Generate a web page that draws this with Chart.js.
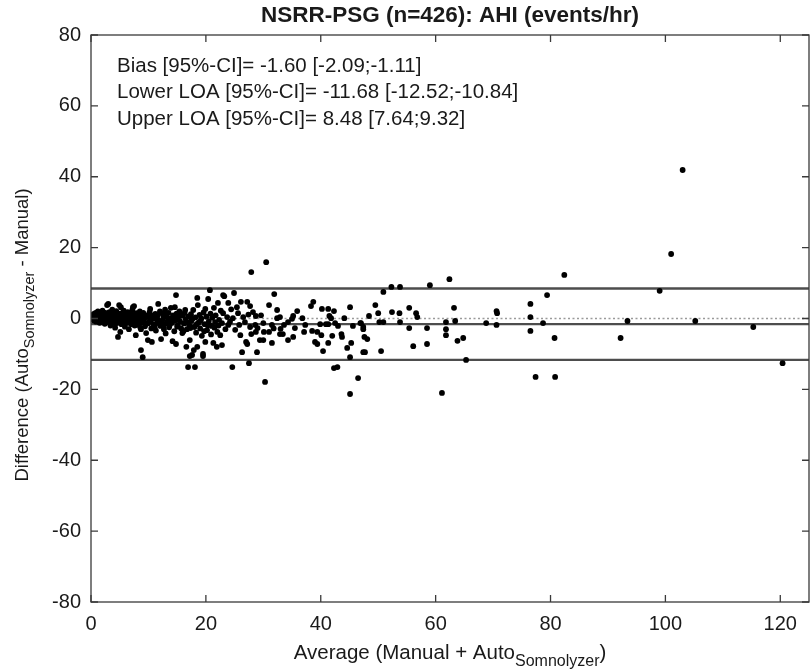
<!DOCTYPE html>
<html><head><meta charset="utf-8">
<script src="https://cdn.jsdelivr.net/npm/chart.js@4/dist/chart.umd.min.js"></script>
<style>html,body{margin:0;padding:0;background:#fff}#wrap{width:812px;height:672px}</style>
</head><body><div id="wrap"><canvas id="c" width="812" height="672"></canvas></div>
<script>
const xTicks=[0,20,40,60,80,100,120];
const yTicks=[-80,-60,-40,-20,0,20,40,60,80];
const xRange=[0,125];
const yRange=[-80,80];
const upperLOA=[8.48];
const biasLine=[-1.60];
const lowerLOA=[-11.68];
const zeroLine=[0];
const titleText='NSRR-PSG (n=426): AHI (events/hr)';
const statLabels=['Bias [95%-CI]= -1.60 [-2.09;-1.11]','Lower LOA [95%-CI]= -11.68 [-12.52;-10.84]','Upper LOA [95%-CI]= 8.48 [7.64;9.32]'];
const yTitleParts=['Difference (Auto','Somnolyzer',' - Manual)'];
const xTitleParts=['Average (Manual + Auto','Somnolyzer',')'];

const pointsLow=[[0.1,0.2],[0.2,0.6],[0.2,-0.3],[0.3,1.0],[0.4,0.1],[0.4,0.7],[0.5,-0.6],[0.5,1.3],[0.6,0.3],[0.7,0.9],[0.7,-0.2],[0.8,1.6],[0.8,0.4],[0.9,-0.9],[1.0,0.6],[1.0,1.1],[1.1,-0.1],[1.2,0.8],[1.2,2.0],[1.3,-0.5],[1.4,0.3],[1.4,1.2],[1.5,-1.2],[1.6,0.7],[1.6,0.0],[1.7,1.5],[1.8,-0.4],[1.8,0.9],[1.9,0.2],[2.0,2.2],[2.0,-0.8],[2.1,0.5],[2.2,1.2],[2.2,-0.1],[2.3,0.8],[2.4,-1.5],[2.5,0.3],[2.5,1.6],
[2.6,-0.6],[2.7,0.9],[2.8,3.8],[2.8,0.1],[2.9,1.3],[3.0,-1.0],[3.0,4.1],[3.1,0.5],[3.2,1.8],[3.2,-0.3],[3.3,0.9],[3.4,-2.0],[3.5,0.2],[3.5,1.4],[3.6,-0.7],[3.7,2.5],[3.8,0.6],[3.8,-1.3],[3.9,1.0],[4.0,-0.2],[4.1,1.7],[4.1,0.3],[4.2,-2.6],[4.3,0.9],[4.4,2.1],[4.4,-0.5],[4.5,0.4],[4.6,1.3],[4.7,-5.2],[4.7,-1.0],[4.8,0.1],[4.9,3.8],[4.9,1.0],[5.0,-0.4],[5.1,-3.8],[5.2,3.2],[5.2,0.7],
[5.3,-1.6],[5.4,1.5],[5.5,0.2],[5.6,-0.8],[5.7,2.2],[5.8,0.6],[5.9,-2.3],[6.0,1.1],[6.1,-0.2],[6.2,0.9],[6.3,-1.2],[6.4,1.8],[6.5,0.3],[6.6,-3.0],[6.7,0.8],[6.8,-0.6],[6.9,1.4],[7.0,-1.6],[7.1,0.4],[7.2,2.4],[7.3,3.2],[7.3,-0.3],[7.4,1.0],[7.5,3.5],[7.6,-2.0],[7.7,0.6],[7.8,-4.7],[7.9,1.5],[8.0,-0.8],[8.1,0.2],[8.2,-1.8],[8.3,1.2],[8.4,-0.4],[8.5,2.0],[8.6,-2.6],[8.7,-3.0],[8.7,-8.9],[8.8,0.7],[9.0,-10.9],[9.0,-1.1],[9.1,1.6],[9.3,0.1],[9.4,-2.2],[9.6,-4.1],[9.7,0.9],[9.9,-6.1],[9.9,-1.4],[10.0,0.4],
[10.2,1.8],[10.3,2.7],[10.4,-0.6],[10.5,-2.8],[10.6,-6.6],[10.7,0.8],[10.9,-1.7],[11.0,0.0],[11.2,1.3],[11.3,-3.4],[11.5,0.1],[11.5,-1.3],[11.7,4.1],[11.8,-0.7],[12.0,2.0],[12.1,-2.1],[12.2,-5.8],[12.4,1.5],[12.5,-0.3],[12.6,0.7],[12.8,-1.6],[12.9,2.5],[13.0,-4.2],[13.2,0.4],[13.3,-0.9],[13.5,1.6],[13.6,-2.5],[13.8,0.0],[13.9,3.0],[14.1,-1.2],[14.2,-6.4],[14.3,0.9],[14.5,-3.6],[14.6,3.2],[14.7,-0.5],[14.8,6.6],[14.8,-7.2],[14.9,1.4]];

const pointsMid=[[15.1,-1.9],[15.2,0.4],[15.4,2.0],[15.5,-0.8],[15.7,-2.8],[15.9,-4.1],[16.0,0.9],[16.2,-1.4],[16.3,1.6],[16.4,2.4],[16.5,-0.2],[16.6,-8.0],[16.7,-3.0],[16.9,-13.7],[17.0,0.6],[17.1,-1.8],[17.2,-6.1],[17.2,-10.6],[17.4,1.2],[17.5,-0.6],[17.6,-10.3],[17.8,2.4],[17.9,-8.9],[18.0,-2.4],[18.1,-13.7],[18.2,0.3],[18.3,-4.0],[18.5,5.8],[18.5,-8.0],[18.6,3.8],[18.7,-1.2],[18.9,1.0],[19.0,-2.8],[19.2,0.0],[19.3,-4.9],[19.5,-10.0],[19.5,-10.6],[19.6,1.7],[19.8,-1.6],[19.9,2.7],[19.9,-6.6],[20.1,0.5],[20.2,-3.3],[20.4,5.5],[20.5,-0.9],[20.7,8.0],[20.8,1.4],[21.0,-2.1],[21.1,0.2],[21.3,-6.9],[21.4,3.0],[21.6,-1.0],[21.7,0.9],[21.9,-8.0],[22.0,-3.8],[22.1,4.4],[22.3,-0.4],
[22.5,-4.7],[22.8,-1.3],[22.8,-7.5],[23.0,6.6],[23.0,1.5],[23.2,6.3],[23.7,0.4],[23.9,4.4],[23.9,-1.8],[24.6,-13.7],[24.7,0.1],[24.9,7.2],[25.4,3.2],[25.6,1.5],[25.8,-1.8],[26.0,-4.7],[26.1,4.7],[26.3,-9.5],[26.5,0.4],[27.0,-6.6],[27.2,4.7],[27.2,-7.2],[27.5,-12.6],[27.7,3.5],[27.7,-2.4],[27.9,13.1],[27.9,-4.4],[28.2,1.8],[28.6,-1.8],[28.7,0.7],[28.7,-3.8],[28.9,-9.5],[29.4,-6.1],[30.0,-1.3],[30.0,-6.1],[30.1,-3.8],[30.3,-17.9],[30.5,15.9],[31.0,3.8],[31.0,-3.8],[31.5,-1.8],[31.5,-6.9],[31.9,6.9],[32.4,2.4],[32.4,0.1],[32.9,0.4],[32.9,-4.4],[33.4,-4.4],[33.6,-1.8]];

const pointsHigh=[[34.3,-1.0],[34.3,-6.1],[35.0,-0.1],[35.2,0.7],[35.2,-5.2],[35.5,-2.7],[35.9,2.1],[36.8,0.1],[37.1,-3.8],[37.3,-1.8],[38.3,3.5],[38.5,-3.5],[38.7,4.7],[39.0,-6.6],[39.4,-3.8],[39.4,-7.2],[39.9,-1.6],[40.1,-4.7],[40.2,2.7],[40.4,-9.2],[40.9,-1.6],[41.3,2.7],[41.3,-1.6],[41.3,-6.9],[41.5,0.7],[41.8,0.1],[42.0,-4.9],[42.3,2.1],[42.3,-14.0],[42.5,-1.3],[42.9,-13.7],[43.0,-2.1],[43.6,-4.4],[43.7,-5.2],[44.1,0.1],[44.6,-8.3],[45.1,3.2],[45.1,-10.9],[45.1,-21.3],[45.3,-6.9],[45.6,-2.1],[46.5,-16.8],[46.9,-1.3],[47.0,-1.3],[47.4,-2.4],[47.4,-3.0],[47.4,-9.5],[47.6,-5.2],[47.7,-9.5],[48.1,-5.8],
[48.4,0.7],[49.5,3.8],[50.0,1.5],[50.2,-1.0],[50.5,-9.2],[50.9,7.5],[50.9,-1.0],[52.3,8.9],[52.4,1.8],[53.7,1.5],[53.8,8.9],[53.8,-1.0],[55.4,3.0],[55.4,-2.7],[56.1,-7.8],[56.6,1.5],[56.8,0.4],[58.5,-2.7],[58.5,-7.2],[59.0,9.4],
[61.1,-21.0],[61.8,-1.0],[61.8,-3.0],[61.8,-4.7],[62.4,11.1],[63.2,3.0],[63.4,-0.7],[63.8,-6.3],[64.8,-5.5],[65.3,-11.7],[68.8,-1.3],[70.6,2.1],[70.7,1.5],[70.6,-1.8],[76.5,4.1],[76.5,0.4],[76.5,-3.5],[77.4,-16.5],[78.7,-1.3],[79.4,6.6],[80.7,-5.5],[80.8,-16.5],[82.4,12.3],[92.2,-5.5],[93.4,-0.7],[99.0,7.8],[101.0,18.2],[103.0,41.9],[105.2,-0.7],[115.3,-2.4],[120.4,-12.6]];

const pointsExtra=[[0.3,0.1],[0.6,0.5],[0.9,0.2],[1.1,0.7],[1.3,0.4],[1.5,0.9],[1.7,0.3],[1.9,-0.2],[2.1,1.0],[2.3,0.2],[2.6,0.6],[2.9,-0.4],[3.1,1.1],[3.3,-0.6],[3.6,0.4],[3.9,0.0],[4.2,0.8],[4.5,-1.3],[4.8,0.5],[5.0,1.4],[5.4,-0.1],[5.7,-0.5],[6.0,0.3],[6.3,1.3],[6.6,-0.9],[6.9,0.2],[7.2,-0.9],[7.6,0.9],[8.0,0.4],[8.4,-1.3],[8.9,0.3],[9.2,-0.7],[9.6,0.6],[10.1,-0.9],[10.6,0.3],[11.1,-2.4],[11.6,0.9],[12.3,-1.0],[12.7,-3.0],[13.1,1.1],[13.7,-1.8],[14.4,0.4],[15.0,-2.3],[15.6,0.8],[16.1,-3.6],[16.8,-1.1],[17.3,-2.7],[17.7,0.0],[18.4,-1.6],[19.1,-0.6],[19.7,-3.6],[20.3,-1.9],[20.9,-4.5],[21.5,-2.6],[22.2,-2.0],[22.6,2.2],[23.4,-3.0],[24.2,-0.9],[24.4,2.6],[25.1,-3.2],[26.8,-1.0],[27.4,1.1],[29.0,-2.7],[29.6,0.9],[31.8,-2.8],[33.0,-2.9]];

const allPoints=[...pointsLow,...pointsMid,...pointsHigh,...pointsExtra].map(p=>({x:p[0],y:p[1]}));
const hline=v=>[{x:xRange[0],y:v},{x:xRange[1],y:v}];

const FONT='"Liberation Sans", Arial, sans-serif';
function subText(ctx,parts,size,subSize,subDy){
  ctx.font=size+'px '+FONT; const w0=ctx.measureText(parts[0]).width, w2=ctx.measureText(parts[2]).width;
  ctx.font=subSize+'px '+FONT; const w1=ctx.measureText(parts[1]).width;
  let sx=-(w0+w1+w2)/2;
  ctx.textAlign='left'; ctx.textBaseline='alphabetic';
  ctx.font=size+'px '+FONT; ctx.fillText(parts[0],sx,0); sx+=w0;
  ctx.font=subSize+'px '+FONT; ctx.fillText(parts[1],sx,subDy); sx+=w1;
  ctx.font=size+'px '+FONT; ctx.fillText(parts[2],sx,0);
}
const deco={id:'deco',afterDraw(chart){
  const {ctx,chartArea:a,scales:{x,y}}=chart;
  ctx.save();
  ctx.strokeStyle='#3a3a3a'; ctx.lineWidth=1.3;
  ctx.strokeRect(a.left,a.top,a.right-a.left,a.bottom-a.top);
  const tl=7;
  ctx.beginPath();
  xTicks.forEach(v=>{const p=x.getPixelForValue(v); ctx.moveTo(p,a.bottom); ctx.lineTo(p,a.bottom-tl); ctx.moveTo(p,a.top); ctx.lineTo(p,a.top+tl);});
  yTicks.forEach(v=>{const p=y.getPixelForValue(v); ctx.moveTo(a.left,p); ctx.lineTo(a.left+tl,p); ctx.moveTo(a.right,p); ctx.lineTo(a.right-tl,p);});
  ctx.stroke();
  ctx.fillStyle='#1a1a1a';
  ctx.font='20px '+FONT; ctx.textAlign='center'; ctx.textBaseline='top';
  xTicks.forEach(v=>ctx.fillText(String(v),x.getPixelForValue(v),a.bottom+12));
  ctx.textAlign='right'; ctx.textBaseline='middle';
  yTicks.forEach(v=>ctx.fillText(String(v),a.left-10,y.getPixelForValue(v)));
  ctx.font='20.5px '+FONT; ctx.textAlign='left'; ctx.textBaseline='middle';
  statLabels.forEach((s,i)=>ctx.fillText(s,a.left+26,a.top+31+i*26.5));
  ctx.font='bold 22.5px '+FONT; ctx.textAlign='center'; ctx.textBaseline='middle';
  ctx.fillText(titleText,(a.left+a.right)/2,16);
  ctx.save(); ctx.translate((a.left+a.right)/2,659); subText(ctx,xTitleParts,20.5,16,7); ctx.restore();
  ctx.save(); ctx.translate(28,335); ctx.rotate(-Math.PI/2); subText(ctx,yTitleParts,18.5,14.5,6); ctx.restore();
  ctx.restore();
}};

new Chart(document.getElementById('c'),{
  type:'scatter',
  data:{datasets:[
    {data:allPoints,pointRadius:2.9,pointHoverRadius:2.9,pointBackgroundColor:'#000',pointBorderWidth:0,showLine:false,order:0},
    {data:hline(upperLOA[0]),showLine:true,borderColor:'#4d4d4d',borderWidth:2.4,pointRadius:0,order:1},
    {data:hline(biasLine[0]),showLine:true,borderColor:'#4d4d4d',borderWidth:2.4,pointRadius:0,order:1},
    {data:hline(lowerLOA[0]),showLine:true,borderColor:'#4d4d4d',borderWidth:2.4,pointRadius:0,order:1},
    {data:hline(zeroLine[0]),showLine:true,borderColor:'#9a9a9a',borderWidth:1.6,borderDash:[2,2.5],pointRadius:0,order:2}
  ]},
  options:{
    responsive:false,animation:false,devicePixelRatio:1,
    layout:{padding:{top:35,right:3,left:0,bottom:0}},
    plugins:{legend:{display:false},tooltip:{enabled:false},title:{display:false}},
    scales:{
      x:{type:'linear',min:xRange[0],max:xRange[1],afterBuildTicks:s=>{s.ticks=xTicks.map(v=>({value:v}));},afterFit:s=>{s.height=70;},ticks:{display:false},grid:{display:false},border:{display:false}},
      y:{type:'linear',min:yRange[0],max:yRange[1],afterBuildTicks:s=>{s.ticks=yTicks.map(v=>({value:v}));},afterFit:s=>{s.width=91;},ticks:{display:false},grid:{display:false},border:{display:false}}
    }
  },
  plugins:[deco]
});
</script>
</body></html>
